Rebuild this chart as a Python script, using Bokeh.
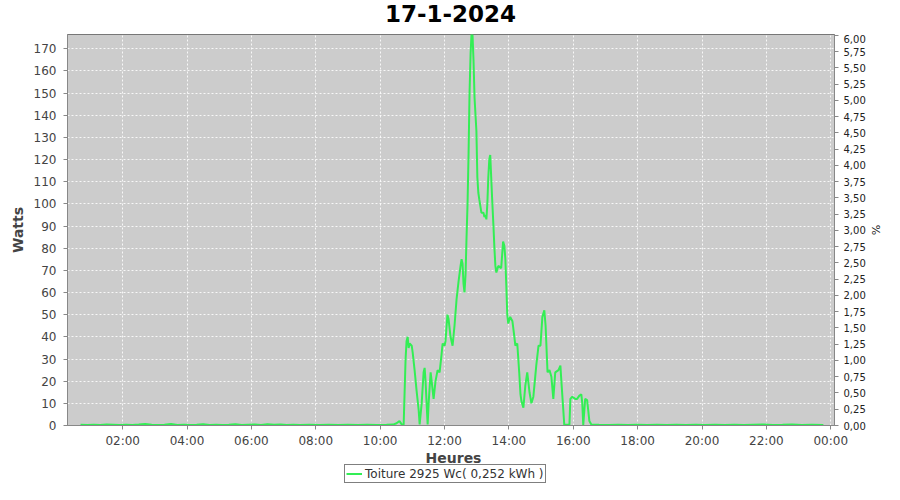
from bokeh.plotting import figure
from bokeh.layouts import column
from bokeh.models import (Range1d, LinearAxis, FixedTicker, Label, Legend,
                          LegendItem)
from bokeh.embed import file_html
from bokeh.resources import INLINE

title_text = "17-1-2024"
x_axis_title = "Heures"
y_axis_title = "Watts"
y2_axis_title = "%"
series_label = "Toiture 2925 Wc( 0,252 kWh )"

hours = [
    0.69, 0.9, 1.1, 1.3, 1.5, 1.7, 1.9, 2.1, 2.3, 2.5, 2.7, 2.9, 3.1, 3.3, 3.5,
    3.7, 3.9, 4.1, 4.3, 4.5, 4.7, 4.9, 5.1, 5.3, 5.5, 5.7, 5.9, 6.1, 6.3, 6.5,
    6.7, 6.9, 7.1, 7.3, 7.5, 7.8, 8.1, 8.4, 8.7, 9.0, 9.3, 9.6, 9.9, 10.2, 10.4,
    10.51, 10.6, 10.67, 10.73,
    10.79, 10.82, 10.855, 10.885, 10.916, 10.98, 11.01, 11.07, 11.13, 11.196,
    11.227, 11.29, 11.35, 11.382, 11.41, 11.475, 11.506, 11.568, 11.6, 11.66,
    11.72, 11.785, 11.847, 11.907, 11.94, 12.0, 12.03, 12.09, 12.125, 12.187,
    12.25, 12.31, 12.374, 12.436, 12.498, 12.53, 12.56, 12.59, 12.62, 12.653,
    12.684, 12.715, 12.746, 12.777, 12.81, 12.84, 12.87, 12.9, 12.932, 12.99,
    13.02, 13.05, 13.08, 13.145, 13.21, 13.24, 13.27, 13.30, 13.33, 13.36,
    13.39, 13.42, 13.45, 13.48, 13.52, 13.55, 13.58, 13.61, 13.67, 13.76,
    13.82, 13.86, 13.89, 13.92, 13.95, 13.98, 14.04, 14.11, 14.17, 14.20,
    14.26, 14.32, 14.36, 14.39, 14.45, 14.51, 14.57, 14.64, 14.70, 14.76,
    14.85, 14.92, 14.98, 15.04, 15.10, 15.14, 15.20, 15.26, 15.32, 15.38,
    15.44, 15.54, 15.60, 15.63, 15.69, 15.72, 15.88, 15.91, 15.97, 16.06,
    16.12, 16.19, 16.25, 16.28, 16.31, 16.37, 16.43, 16.50, 16.56,
    16.8, 17.1, 17.4, 17.7, 18.0, 18.3, 18.6, 18.9, 19.2, 19.5, 19.8, 20.1,
    20.4, 20.7, 21.0, 21.3, 21.6, 21.9, 22.2, 22.5, 22.8, 23.1, 23.4, 23.77,
]

watts = [
    0.3, 0.2, 0.3, 0.2, 0.4, 0.3, 0.2, 0.3, 0.2, 0.4, 0.7, 0.3, 0.2, 0.3, 0.7,
    0.2, 0.3, 0.2, 0.3, 0.6, 0.2, 0.3, 0.2, 0.3, 0.6, 0.2, 0.3, 0.4, 0.2, 0.6,
    0.3, 0.4, 0.2, 0.3, 0.2, 0.3, 0.2, 0.3, 0.2, 0.3, 0.2, 0.3, 0.2, 0.3, 0.4,
    1.0, 2.0, 0.5, 0.3,
    30, 38, 40, 35, 37, 36, 33, 25, 16, 7,
    0.5, 10, 24, 26, 20, 0.5, 10, 24, 20, 12,
    20, 25, 24, 32, 37, 36, 38, 50, 48, 40,
    36, 45, 57, 65, 72, 75, 73, 64, 60, 68,
    85, 100, 122, 150, 168, 177, 176, 165, 148, 133,
    112, 105, 102, 96, 96, 94, 95, 93, 100, 112,
    120, 122, 112, 102, 90, 80, 72, 69, 72, 71,
    83, 81, 75, 63, 50, 46, 49, 47, 40, 36,
    37, 24, 14, 11, 8, 18, 24, 15, 10, 13,
    27, 36, 36, 49, 52, 45, 24, 25, 22, 12,
    24, 25, 27, 20, 7, 0.3, 0.3, 12, 13, 12,
    12, 13.5, 14, 10, 0.3, 12, 11.5, 2, 0.5,
    0.3, 0.2, 0.3, 0.2, 0.3, 0.2, 0.3, 0.2, 0.3, 0.2, 0.3, 0.2,
    0.3, 0.2, 0.3, 0.2, 0.3, 0.4, 0.2, 0.3, 0.5, 0.2, 0.3, 0.2,
]

x_ticks = [2, 4, 6, 8, 10, 12, 14, 16, 18, 20, 22, 24]
x_tick_labels = ["02:00", "04:00", "06:00", "08:00", "10:00", "12:00",
                 "14:00", "16:00", "18:00", "20:00", "22:00", "00:00"]
y_ticks = [0, 10, 20, 30, 40, 50, 60, 70, 80, 90, 100, 110, 120, 130, 140,
           150, 160, 170]
pct_ticks = [0.0, 0.25, 0.5, 0.75, 1.0, 1.25, 1.5, 1.75, 2.0, 2.25, 2.5, 2.75,
             3.0, 3.25, 3.5, 3.75, 4.0, 4.25, 4.5, 4.75, 5.0, 5.25, 5.5, 5.75,
             6.0]
pct_tick_labels = ["0,00", "0,25", "0,50", "0,75", "1,00", "1,25", "1,50",
                   "1,75", "2,00", "2,25", "2,50", "2,75", "3,00", "3,25",
                   "3,50", "3,75", "4,00", "4,25", "4,50", "4,75", "5,00",
                   "5,25", "5,50", "5,75", "6,00"]

FONT = "DejaVu Sans"
LINE_COLOR = "#33EE55"
W = 884
BL, BR = 67, 48          # left / right borders shared by the three strips
TOP_H, MAIN_H, BOT_H = 34, 416, 34


def strip(height, **kw):
    s = figure(width=W, height=height, output_backend="svg",
               toolbar_location=None, title=None, x_axis_type=None,
               y_axis_type=None, min_border_left=BL, min_border_right=BR,
               min_border_top=0, min_border_bottom=0,
               outline_line_color=None, background_fill_color="white",
               border_fill_color="white", **kw)
    s.xgrid.visible = False
    s.ygrid.visible = False
    return s


# ---- title strip
p0 = strip(TOP_H)
p0.add_layout(Label(x=383, y=21, x_units="screen", y_units="screen",
                    text=title_text, text_align="center",
                    text_baseline="alphabetic", text_font=FONT,
                    text_font_size="23px", text_font_style="bold",
                    text_color="black"))

# ---- main chart
p = figure(width=W, height=MAIN_H, output_backend="svg",
           toolbar_location=None, title=None,
           x_range=Range1d(0.286, 24.116), y_range=Range1d(0, 176.4),
           min_border_left=BL, min_border_right=BR, min_border_top=0,
           min_border_bottom=23, background_fill_color="#CCCCCC",
           border_fill_color="white", outline_line_color="#777777",
           outline_line_width=1)
p.extra_y_ranges = {"pct": Range1d(0, 6.015)}

r = p.line(hours, watts, line_color=LINE_COLOR, line_width=2)

for g in (p.xgrid, p.ygrid):
    g.grid_line_color = "white"
    g.grid_line_alpha = 0.85
    g.grid_line_dash = "2 2"
    g.grid_line_width = 1

xa = p.xaxis[0]
xa.ticker = FixedTicker(ticks=x_ticks)
xa.major_label_overrides = {t: l for t, l in zip(x_ticks, x_tick_labels)}
xa.major_label_standoff = 4

ya = p.yaxis[0]
ya.ticker = FixedTicker(ticks=y_ticks)
ya.axis_label = y_axis_title
ya.major_label_standoff = 7
ya.axis_label_standoff = 5

for ax in (xa, ya):
    ax.axis_line_color = "#888888"
    ax.major_tick_line_color = "#888888"
    ax.major_tick_in = 0
    ax.major_tick_out = 4
    ax.minor_tick_line_color = None
    ax.major_label_text_font = FONT
    ax.major_label_text_font_size = "12px"
    ax.major_label_text_color = "#444444"
    ax.axis_label_text_font = FONT
    ax.axis_label_text_font_size = "14px"
    ax.axis_label_text_font_style = "bold"
    ax.axis_label_text_color = "#444444"

ra = LinearAxis(y_range_name="pct", axis_label=y2_axis_title)
ra.ticker = FixedTicker(ticks=pct_ticks)
ra.major_label_overrides = {t: l for t, l in zip(pct_ticks, pct_tick_labels)}
ra.axis_line_color = "#888888"
ra.major_tick_line_color = "#888888"
ra.major_tick_in = 0
ra.major_tick_out = 4
ra.minor_tick_line_color = None
ra.major_label_text_font = FONT
ra.major_label_text_font_size = "10px"
ra.major_label_text_color = "#222222"
ra.major_label_standoff = 5
ra.axis_label_text_font = FONT
ra.axis_label_text_font_size = "11px"
ra.axis_label_text_font_style = "normal"
ra.axis_label_text_color = "#222222"
ra.axis_label_standoff = 0
p.add_layout(ra, "right")

# ---- bottom strip: x axis title + legend
# the legend swatch renderer draws the same series, but far outside this
# strip's visible range, so only its legend entry shows
p2 = strip(BOT_H, x_range=Range1d(0.286, 24.116), y_range=Range1d(1000, 1001))
p2.add_layout(Label(x=386, y=27, x_units="screen", y_units="screen",
                    text=x_axis_title, text_align="center",
                    text_baseline="alphabetic", text_font=FONT,
                    text_font_size="14px", text_font_style="bold",
                    text_color="#444444"))
swatch = p2.line(hours, watts, line_color=LINE_COLOR, line_width=2)
legend = Legend(items=[LegendItem(label=series_label, renderers=[swatch])],
                location=(277, 1), orientation="horizontal",
                border_line_color="black", border_line_width=1,
                background_fill_color="white", background_fill_alpha=1,
                padding=1, margin=0, spacing=0, glyph_width=16,
                glyph_height=15, label_height=15, label_standoff=3,
                label_text_font=FONT, label_text_font_size="12px",
                label_text_color="#333333")
p2.add_layout(legend, "center")

layout = column(p0, p, p2, spacing=0)
open("out.html", "w").write(file_html(layout, INLINE))
